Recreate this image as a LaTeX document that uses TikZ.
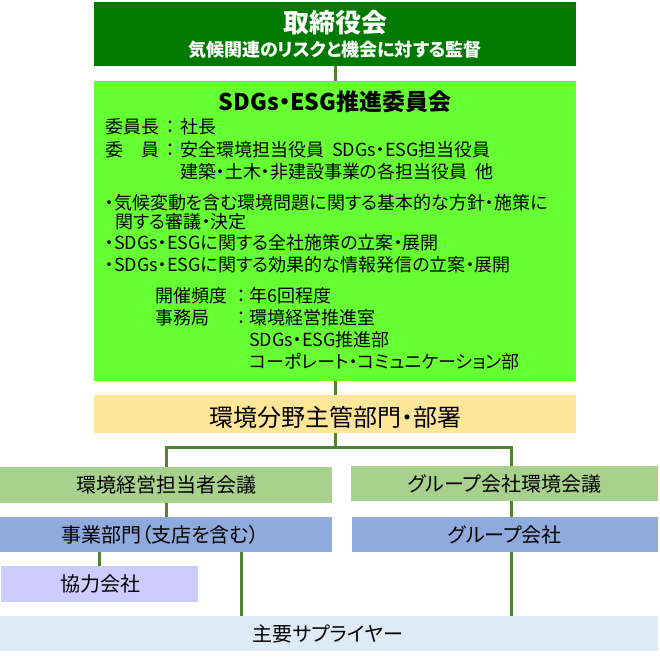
\documentclass[tikz,border=0pt]{standalone}
\usepackage{fontspec}
\setmainfont{Noto Sans CJK JP}[RawFeature=+palt]
\definecolor{boardgreen}{HTML}{007A00}
\definecolor{sdgsgreen}{HTML}{66FF33}
\definecolor{deptyellow}{HTML}{FFE699}
\definecolor{meetgreen}{HTML}{A9D18E}
\definecolor{divblue}{HTML}{8FAADC}
\definecolor{partnerlilac}{HTML}{CCCCFF}
\definecolor{supplierblue}{HTML}{DDEBF7}
\definecolor{linegreen}{HTML}{548235}
\begin{document}
\begin{tikzpicture}[x=1pt,y=-1pt,
    box/.style={inner sep=0pt, outer sep=0pt},
    txt/.style={inner sep=0pt, anchor=west, font=\fontsize{18}{20}\selectfont},
    lbl/.style={inner sep=0pt, font=\fontsize{20}{22}\selectfont},
    conn/.style={draw=linegreen, line width=3pt}]
    \useasboundingbox (0,0) rectangle (660,658);
    % boxes
    \node[box, fill=boardgreen, minimum width=482, minimum height=64] (board) at (335,34) {};
    \node[box, fill=sdgsgreen, minimum width=482, minimum height=300] (sdgs) at (335,231) {};
    \node[box, fill=deptyellow, minimum width=482, minimum height=38] (dept) at (335,414) {};
    \node[box, fill=meetgreen, minimum width=332, minimum height=36] (kmeet) at (166,485) {};
    \node[box, fill=meetgreen, minimum width=307, minimum height=35] (gmeet) at (504.5,483.5) {};
    \node[box, fill=divblue, minimum width=332, minimum height=35] (bizdiv) at (166,534.5) {};
    \node[box, fill=divblue, minimum width=306, minimum height=35] (gcomp) at (505,534.5) {};
    \node[box, fill=partnerlilac, minimum width=197, minimum height=36] (partner) at (99.5,584) {};
    \node[box, fill=supplierblue, minimum width=658, minimum height=35] (supp) at (329,633.5) {};
    % board
    \node[inner sep=0pt, text=white, font=\bfseries\fontsize{26}{28}\selectfont] (boardname) at (335,23) {取締役会};
    \node[inner sep=0pt, text=white, font=\bfseries\fontsize{18}{20}\selectfont] (boardrole) at (335,50) {気候関連のリスクと機会に対する監督};
    % committee
    \node[inner sep=0pt, font=\bfseries\fontsize{23}{25}\selectfont] (sdgsname) at (335,102) {SDGs・ESG推進委員会};
    \node[txt] (chairlbl) at (105,127) {委員長};
    \node[txt] (memblbl) at (105,150) {委　員};
    \node[inner sep=0pt, font=\fontsize{18}{20}\selectfont] (chaircol) at (170,127) {：};
    \node[inner sep=0pt, font=\fontsize{18}{20}\selectfont] (membcol) at (170,150) {：};
    \node[txt] (chair) at (180,127) {社長};
    \node[txt] (memb1) at (180,150) {安全環境担当役員\ \ SDGs・ESG担当役員};
    \node[txt] (memb2) at (180,172) {建築・土木・非建設事業の各担当役員\ \ 他};
    \node[txt] (task1) at (105,203) {・気候変動を含む環境問題に関する基本的な方針・施策に};
    \node[txt] (task1b) at (115,222) {関する審議・決定};
    \node[txt] (task2) at (105,243) {・SDGs・ESGに関する全社施策の立案・展開};
    \node[txt] (task3) at (105,265) {・SDGs・ESGに関する効果的な情報発信の立案・展開};
    \node[txt] (freqlbl) at (155,296) {開催頻度};
    \node[txt] (officelbl) at (155,318) {事務局};
    \node[inner sep=0pt, font=\fontsize{18}{20}\selectfont] (freqcol) at (241,296) {：};
    \node[inner sep=0pt, font=\fontsize{18}{20}\selectfont] (officecol) at (241,318) {：};
    \node[txt] (freq) at (249,296) {年6回程度};
    \node[txt] (office1) at (249,318) {環境経営推進室};
    \node[txt] (office2) at (249,340) {SDGs・ESG推進部};
    \node[txt] (office3) at (249,362) {コーポレート・コミュニケーション部};
    % lower boxes
    \node[lbl, font=\fontsize{24}{26}\selectfont] (deptname) at (335,417) {環境分野主管部門・部署};
    \node[lbl] (kmeetname) at (166,485) {環境経営担当者会議};
    \node[lbl] (gmeetname) at (504.5,483.5) {グループ会社環境会議};
    \node[lbl] (bizdivname) at (160,534.5) {事業部門（支店を含む）};
    \node[lbl] (gcompname) at (505,534.5) {グループ会社};
    \node[lbl] (partnername) at (100,584) {協力会社};
    \node[lbl] (suppname) at (328,633.5) {主要サプライヤー};
    % connectors
    \coordinate (split) at (335,447);
    \coordinate (rjoin) at (511,447);
    \coordinate (ljoin) at (241,600);
    \draw[conn] (board) -- (sdgs);
    \draw[conn] (sdgs) -- (dept);
    \draw[conn] (dept) -- (split);
    \draw[conn] (kmeet.north) |- (rjoin) -- (gmeet.north -| rjoin);
    \draw[conn] (kmeet) -- (bizdiv);
    \draw[conn] (gmeet.south -| rjoin) -- (gcomp.north -| rjoin);
    \draw[conn] (gcomp.south -| rjoin) -- (supp.north -| rjoin);
    \draw[conn] (bizdiv.south -| partner) -- (partner);
    \draw[conn] (bizdiv.south -| ljoin) -- (supp.north -| ljoin);
\end{tikzpicture}
\end{document}
